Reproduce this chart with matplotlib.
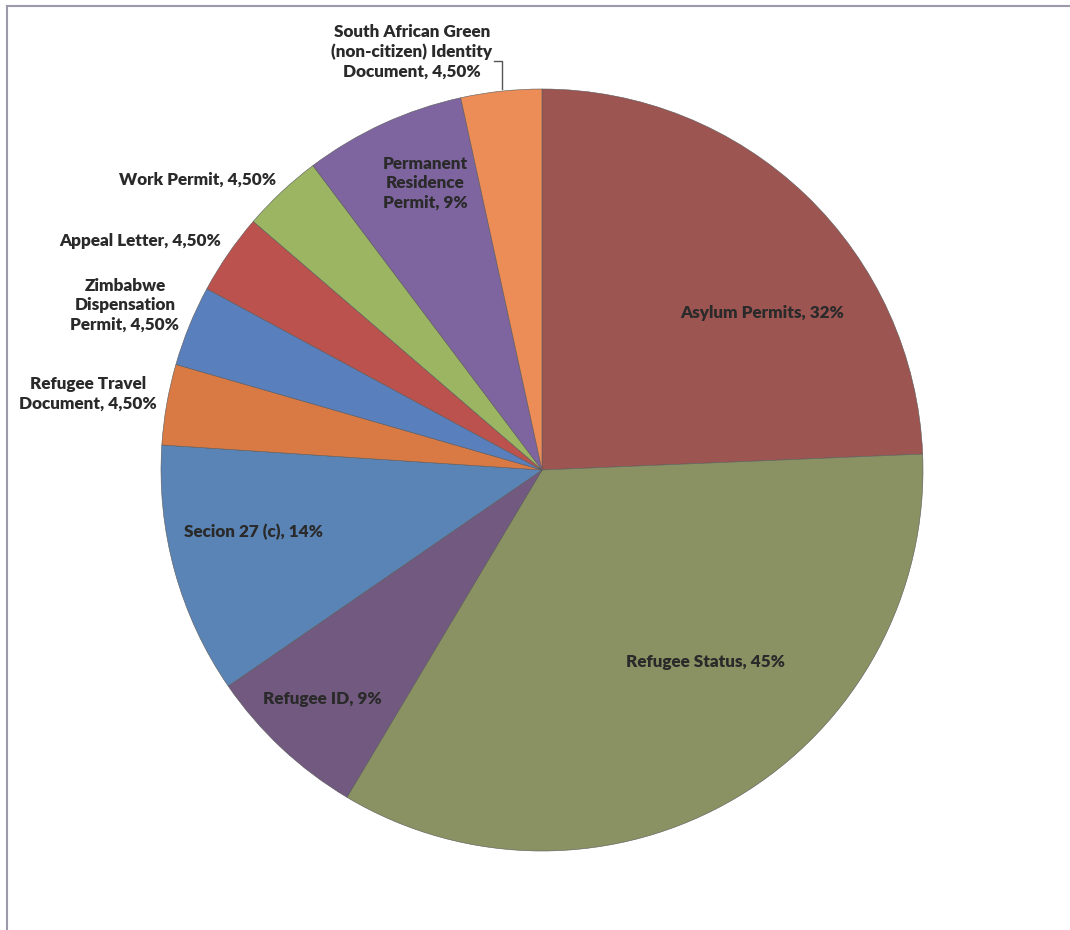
import matplotlib.pyplot as plt

labels = ['Asylum Permits, 32%', 'Refugee Status, 45%', 'Refugee ID, 9%', 'Secion 27 (c), 14%',
          'Refugee Travel\nDocument, 4,50%', 'Zimbabwe\nDispensation\nPermit, 4,50%',
          'Appeal Letter, 4,50%', 'Work Permit, 4,50%', 'Permanent\nResidence\nPermit, 9%',
          'South African Green\n(non-citizen) Identity\nDocument, 4,50%']
values = [32, 45, 9, 14, 4.5, 4.5, 4.5, 4.5, 9, 4.5]
colors = ['#9d5552', '#8a9162', '#72597f', '#5a84b6', '#d97a45', '#5a7fbd',
          '#bb524d', '#9bb563', '#7f65a0', '#ec8c56']

# label spots in pixels (x, y from top), picked from the reference layout
label_xy = [(762, 313), (705, 662), (322, 699), (253, 532), (88, 394), (125, 305),
            (140, 241), (198, 180), (425, 183), (412, 52)]

W, H = 1070, 930
cx, cy, r = 542, 470, 381

fig = plt.figure(figsize=(10.7, 9.3), dpi=100)
ax = fig.add_axes([0, 0, 1, 1])

ax.pie(values, colors=colors, startangle=90, counterclock=False,
       center=(cx, H - cy), radius=r, frame=True,
       wedgeprops={'edgecolor': '#5a5a5a', 'linewidth': 0.4})
ax.set_xlim(0, W)
ax.set_ylim(0, H)
ax.set_aspect('equal')
ax.axis('off')

for lab, (x, y) in zip(labels, label_xy):
    ax.text(x, H - y, lab, ha='center', va='center', fontsize=12.3, fontweight='heavy',
            family='Lato', color='#2a2a2a', linespacing=1.25)

# leader line for the South African Green label
ax.plot([494, 502, 502], [H - 61, H - 61, H - 89], color='#555555', lw=1)

# frame of the original chart (cropped on the right and bottom)
ax.plot([7, 7], [0, H - 6], color='#9a9aaa', lw=1.5)
ax.plot([7, W], [H - 6, H - 6], color='#9a9aaa', lw=1.5)

fig.savefig('out.png', dpi=100, facecolor='white')
